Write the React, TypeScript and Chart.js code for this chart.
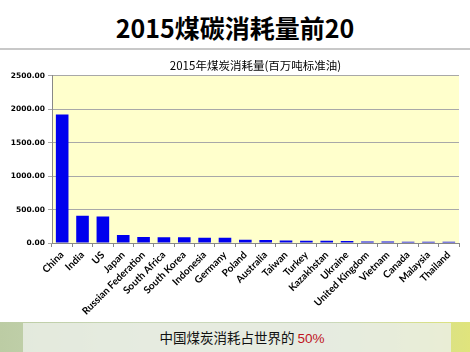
import React, { useEffect, useRef } from "react";
import { Chart, registerables } from "chart.js";

Chart.register(...registerables);

const pageTitle = "2015煤碳消耗量前20";
const chartTitle = "2015年煤炭消耗量(百万吨标准油)";
const footerText = "中国煤炭消耗占世界的 ";
const footerPercent = "50%";

const countries = [
  "China", "India", "US", "Japan", "Russian Federation", "South Africa",
  "South Korea", "Indonesia", "Germany", "Poland", "Australia", "Taiwan",
  "Turkey", "Kazakhstan", "Ukraine", "United Kingdom", "Vietnam", "Canada",
  "Malaysia", "Thailand",
];
const consumption = [
  1920.4, 407.2, 396.3, 118.9, 88.7, 85.0, 84.5, 80.3, 78.3, 49.8, 46.6, 37.8,
  34.4, 32.6, 29.2, 23.4, 22.1, 19.8, 17.6, 17.6,
];
const yMax = 2500;
const yStep = 500;

const plotBg = {
  id: "plotBg",
  beforeDraw(chart: any) {
    const { ctx, chartArea } = chart;
    if (!chartArea) return;
    ctx.save();
    ctx.fillStyle = "#FFFFCC";
    ctx.fillRect(chartArea.left, chartArea.top, chartArea.right - chartArea.left, chartArea.bottom - chartArea.top);
    ctx.restore();
  },
};

export default function App() {
  const ref = useRef<HTMLCanvasElement | null>(null);

  useEffect(() => {
    document.body.style.margin = "0";
    const canvas = ref.current!;
    const chart = new Chart(canvas, {
      type: "bar",
      data: {
        labels: countries,
        datasets: [
          {
            data: consumption,
            backgroundColor: "#0000EE",
            borderWidth: 0,
            categoryPercentage: 1,
            barPercentage: 0.62,
          },
        ],
      },
      options: {
        responsive: false,
        animation: false,
        devicePixelRatio: 1,
        layout: { padding: { left: 6, right: 11, top: 0, bottom: 0 } },
        plugins: {
          legend: { display: false },
          tooltip: { enabled: false },
          title: {
            display: true,
            text: chartTitle,
            fullSize: false,
            color: "#000",
            font: { family: "'Noto Sans CJK SC'", size: 11.5, weight: "normal" },
            padding: { top: 7, bottom: 3 },
          },
        },
        scales: {
          x: {
            grid: {
              display: true,
              drawOnChartArea: false,
              tickLength: 4,
              color: "#888888",
            },
            border: { color: "#888888" },
            ticks: {
              autoSkip: false,
              maxRotation: 45,
              minRotation: 45,
              color: "#000",
              padding: 2,
              font: { family: "'Lato'", size: 10, weight: "bold" },
            },
            afterFit: (scale: any) => {
              scale.height = 77;
            },
          },
          y: {
            min: 0,
            max: yMax,
            grid: { color: "#A8A8A8", tickLength: 4 },
            border: { color: "#888888" },
            ticks: {
              stepSize: yStep,
              color: "#000",
              padding: 3,
              font: { family: "'DejaVu Sans'", size: 7.5, weight: "bold" },
              callback: (v: any) => Number(v).toFixed(2),
            },
            afterFit: (scale: any) => {
              scale.width = 46;
            },
          },
        },
      },
      plugins: [plotBg],
    });
    return () => chart.destroy();
  }, []);

  return (
    <div
      style={{
        position: "absolute",
        left: 0,
        top: 0,
        width: 470,
        height: 352,
        background: "#fff",
        overflow: "hidden",
      }}
    >
      <div
        style={{
          position: "absolute",
          left: 0,
          top: 10,
          width: 470,
          textAlign: "center",
          fontFamily: "'Noto Sans CJK SC'",
          fontWeight: "bold",
          fontSize: 25,
          lineHeight: "34px",
          color: "#000",
        }}
      >
        {pageTitle}
      </div>
      <div
        style={{
          position: "absolute",
          left: 0,
          top: 48,
          width: 470,
          height: 2,
          background: "#C8C8C8",
        }}
      />
      <canvas
        ref={ref}
        width={470}
        height={268}
        style={{ position: "absolute", left: 0, top: 52, width: 470, height: 268 }}
      />
      <div
        style={{
          position: "absolute",
          left: 0,
          top: 322,
          width: 470,
          height: 30,
          background: "linear-gradient(90deg, #bccca4 0%, #cad8b8 30%, #cad8bc 70%, #d8e088 92%, #e0e47c 100%)",
        }}
      />
      <div
        style={{
          position: "absolute",
          left: 23,
          top: 323,
          width: 428,
          height: 29,
          background: "rgba(236,240,234,0.8)",
        }}
      />
      <div
        style={{
          position: "absolute",
          left: 0,
          top: 326,
          width: 470,
          textAlign: "center",
          fontFamily: "'Noto Sans CJK SC'",
          fontSize: 13.5,
          lineHeight: "22px",
          color: "#111",
          paddingLeft: 14,
          boxSizing: "border-box",
        }}
      >
        {footerText}
        <span style={{ color: "#C0141E", fontFamily: "'Liberation Sans'" }}>{footerPercent}</span>
      </div>
    </div>
  );
}
